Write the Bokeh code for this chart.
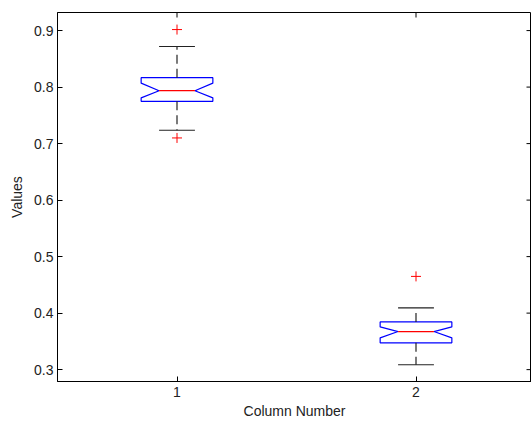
import math
from bokeh.plotting import figure
from bokeh.models import Range1d, FixedTicker, PrintfTickFormatter
from bokeh.embed import file_html
from bokeh.resources import INLINE

# ---- data ----
columns = [1, 2]
q1 = [0.7748, 0.3474]
median = [0.7936, 0.3674]
q3 = [0.8166, 0.3845]
notch_low = [0.781, 0.3563]
notch_high = [0.807, 0.3756]
whisker_low = [0.7236, 0.3086]
whisker_high = [0.8718, 0.4092]
outlier_x = [1, 1, 2]
outlier_y = [0.9018, 0.710, 0.465]
y_ticks = [0.3, 0.4, 0.5, 0.6, 0.7, 0.8, 0.9]
x_ticks = [1, 2]

# ---- style ----
HALF = 0.15     # half box width
NOTCH = 0.075   # notch depth
CAP = 0.075     # half cap width
FONT = "Liberation Sans"

W, H = 531, 421
LEFT, TOP, BOTTOM = 57, 12, 39
px_per_unit = 239.0
x_end = 0.5 + (W - LEFT) / px_per_unit
y_start, y_end = 0.279, 0.932

p = figure(width=W, height=H, output_backend="svg", toolbar_location=None,
           x_range=Range1d(0.5, x_end), y_range=Range1d(y_start, y_end),
           min_border_left=LEFT, min_border_right=0, min_border_top=TOP,
           min_border_bottom=BOTTOM)
p.grid.visible = False
p.outline_line_color = "black"
p.outline_line_width = 1
p.background_fill_color = "white"
p.border_fill_color = "white"

# axes
p.xaxis.ticker = FixedTicker(ticks=x_ticks)
p.yaxis.ticker = FixedTicker(ticks=y_ticks)
p.yaxis.formatter = PrintfTickFormatter(format="%.1f")
for ax in (p.xaxis[0], p.yaxis[0]):
    ax.major_tick_in = 5
    ax.major_tick_out = 0
    ax.minor_tick_line_color = None
    ax.axis_line_color = "black"
    ax.major_tick_line_color = "black"
    ax.major_label_text_font = FONT
    ax.major_label_text_font_size = "14px"
    ax.major_label_text_color = "#222222"
    ax.axis_label_text_font = FONT
    ax.axis_label_text_font_size = "14px"
    ax.axis_label_text_font_style = "normal"
    ax.axis_label_text_color = "#222222"
p.xaxis.axis_label = "Column Number"
p.yaxis.axis_label = "Values"
p.xaxis.major_label_standoff = 5
p.xaxis.axis_label_standoff = 3
p.yaxis.major_label_standoff = 4
p.yaxis.axis_label_standoff = 6

# mirrored ticks on top and right edges (half of each marker is clipped by the frame)
p.scatter(x=x_ticks, y=[y_end] * len(x_ticks), marker="dash", angle=math.pi / 2,
          size=10, line_color="black", line_width=1)
p.scatter(x=[x_end] * len(y_ticks), y=y_ticks, marker="dash",
          size=10, line_color="black", line_width=1)

# boxes with notches
xs, ys = [], []
for c, a, b, m, nl, nh in zip(columns, q1, q3, median, notch_low, notch_high):
    xs.append([c - HALF, c + HALF, c + HALF, c + HALF - NOTCH, c + HALF, c + HALF,
               c - HALF, c - HALF, c - HALF + NOTCH, c - HALF])
    ys.append([b, b, nh, m, nl, a, a, nl, m, nh])
p.patches(xs, ys, fill_color=None, line_color="#0000ff", line_width=1.2)

# medians
p.segment(x0=[c - HALF + NOTCH for c in columns], y0=median,
          x1=[c + HALF - NOTCH for c in columns], y1=median,
          line_color="#ff0000", line_width=1.2)

# whiskers
p.segment(x0=columns, y0=q3, x1=columns, y1=whisker_high,
          line_color="#222222", line_width=1.2, line_dash="9 5")
p.segment(x0=columns, y0=q1, x1=columns, y1=whisker_low,
          line_color="#222222", line_width=1.2, line_dash="9 5")
# caps
p.segment(x0=[c - CAP for c in columns], y0=whisker_high,
          x1=[c + CAP for c in columns], y1=whisker_high, line_color="#222222", line_width=1.2)
p.segment(x0=[c - CAP for c in columns], y0=whisker_low,
          x1=[c + CAP for c in columns], y1=whisker_low, line_color="#222222", line_width=1.2)

# outliers
p.scatter(outlier_x, outlier_y, marker="cross", size=10, line_color="#ff0000", line_width=1)

open("out.html", "w").write(file_html(p, INLINE))
